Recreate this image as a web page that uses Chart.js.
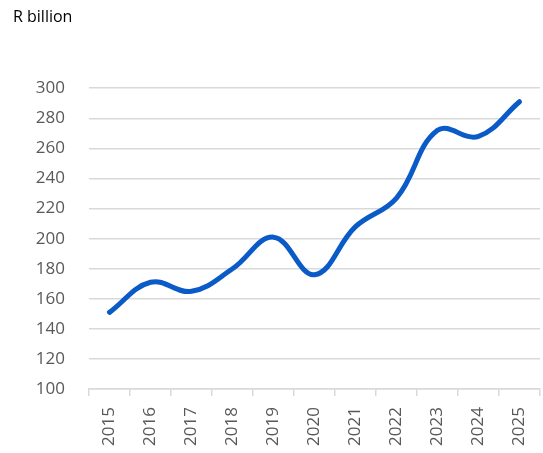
<!DOCTYPE html>
<html><head><meta charset="utf-8">
<script src="https://cdn.jsdelivr.net/npm/chart.js@4/dist/chart.umd.min.js"></script>
<style>html,body{margin:0;padding:0;background:#fff}#wrap{width:543px;height:453px}</style>
</head><body><div id="wrap"><canvas id="c" width="543" height="453"></canvas></div>
<script>
const years = ['2015','2016','2017','2018','2019','2020','2021','2022','2023','2024','2025'];
const values = [151, 171, 165, 180, 201, 176, 208, 227, 272, 268, 291];
const unitLabel = 'R billion';

new Chart(document.getElementById('c'), {
  type: 'line',
  data: { labels: years, datasets: [{ data: values, borderColor: '#0a5ac8', borderWidth: 5, pointRadius: 0, tension: 0.4, borderCapStyle: 'round', fill: false }] },
  options: {
    responsive: false, animation: false,
    layout: { padding: { left: 13, right: 3, top: 0, bottom: -4 } },
    plugins: {
      legend: { display: false }, tooltip: { enabled: false },
      title: { display: true, text: unitLabel, align: 'start', color: '#000', font: { family: 'Open Sans', size: 16, weight: 'normal' }, padding: { top: 8, bottom: 61 } }
    },
    scales: {
      x: { offset: true,
        afterFit: s => { s.paddingLeft = 0; s.paddingRight = 0; },
        grid: { offset: true, drawOnChartArea: false, drawTicks: true, tickLength: 7, color: '#d9d9d9', lineWidth: 1.5 },
        border: { color: '#d9d9d9', width: 1.5 },
        ticks: { minRotation: 90, maxRotation: 90, color: '#595959', font: { family: 'Open Sans', size: 17 }, padding: 11 } },
      y: { min: 100, max: 300,
        afterFit: s => { s.width = 76; },
        grid: { color: '#d9d9d9', lineWidth: 1.5, drawTicks: false },
        border: { display: false },
        ticks: { stepSize: 20, color: '#595959', font: { family: 'Open Sans', size: 17 }, padding: 24 } }
    }
  }
});
</script></body></html>
